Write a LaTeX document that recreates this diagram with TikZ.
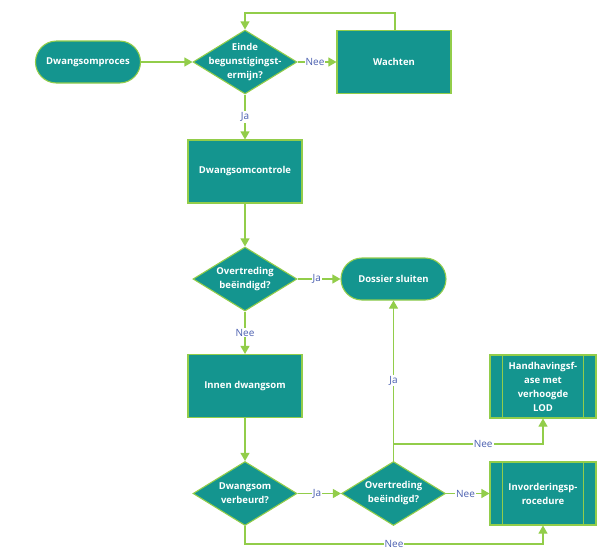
\documentclass[tikz,border=0pt]{standalone}
\usepackage{fontspec}
\setmainfont{Open Sans}
\usetikzlibrary{shapes.geometric,arrows.meta}
\definecolor{teal1}{HTML}{14958F}
\definecolor{lgreen}{HTML}{92CD4A}
\definecolor{lblue}{HTML}{4A5FB0}
\tikzset{
  nodefont/.style={text=white, font=\fontsize{9.5}{14}\selectfont\bfseries, align=center},
  base/.style={draw=lgreen, line width=1.1pt, fill=teal1, nodefont, inner sep=0pt},
  procbox/.style={base, rectangle, minimum width=114pt, minimum height=63pt},
  termbox/.style={base, rounded corners=21pt, minimum width=105pt, minimum height=42pt},
  decbox/.style={base, diamond, aspect=1.6, minimum width=104pt, minimum height=64pt, inner sep=0pt,
    label={[nodefont, inner sep=0pt]center:#1}},
  subbox/.style={base, rectangle, minimum width=106pt, minimum height=63pt},
  conn/.style={draw=lgreen, line width=1.1pt, -{Triangle[width=9pt,length=8pt]}},
  plain/.style={draw=lgreen, line width=1.1pt},
  lbl/.style={fill=white, text=lblue, font=\fontsize{10}{11}\selectfont, inner sep=1pt}
}
\begin{document}
\begin{tikzpicture}[x=1pt,y=-1pt]
\useasboundingbox (0,0) rectangle (602,555);
\node[termbox] (start) at (88,62) {Dwangsomproces};
\node[decbox={Einde\\begunstigingst-\\ermijn?}] (d1) at (245,62) {};
\node[procbox] (wacht) at (394,62) {Wachten};
\node[procbox] (ctrl) at (245,171.5) {Dwangsomcontrole};
\node[decbox={Overtreding\\beëindigd?}] (d2) at (245,279) {};
\node[termbox] (dos) at (393.5,279) {Dossier sluiten};
\node[procbox] (innen) at (245,386) {Innen dwangsom};
\node[decbox={Dwangsom\\verbeurd?}] (d3) at (245,493.5) {};
\node[decbox={Overtreding\\beëindigd?}] (d4) at (393.5,493.5) {};
\node[subbox] (hand) at (543,386.5) {Handhavingsf-\\ase met\\verhoogde\\LOD};
\node[subbox] (inv) at (543,493.5) {Invorderingsp-\\rocedure};
\foreach \n in {hand,inv}{
  \draw[plain] ([xshift=13pt]\n.north west) -- ([xshift=13pt]\n.south west);
  \draw[plain] ([xshift=-13pt]\n.north east) -- ([xshift=-13pt]\n.south east);
}
\coordinate (loopa) at (395,13);
\coordinate (loopb) at (245,13);
\coordinate (br) at (393.5,444);
\coordinate (brr) at (543,444);
\coordinate (bl) at (245,544);
\coordinate (blr) at (543,544);

\draw[conn] (start) -- (d1);
\draw[conn] (d1) -- node[lbl, pos=0.45]{Nee} (wacht);
\draw[conn] (wacht.north -| loopa) -- (loopa) -- (loopb) -- (d1.north);
\draw[conn] (d1) -- node[lbl, pos=0.5]{Ja} (ctrl);
\draw[conn] (ctrl) -- (d2);
\draw[conn] (d2) -- node[lbl, pos=0.45]{Ja} (dos);
\draw[conn] (d2) -- node[lbl, pos=0.5]{Nee} (innen);
\draw[conn] (innen) -- (d3);
\draw[conn] (d3) -- node[lbl, pos=0.45]{Ja} (d4);
\draw[conn] (d4) -- node[lbl, pos=0.45]{Nee} (inv);
\draw[conn] (d4.north) -- node[lbl, pos=0.5]{Ja} (dos.south);
\draw[conn] (br) -- node[lbl, pos=0.6]{Nee} (brr) -- (hand.south);
\draw[conn] (d3.south) -- (bl) -- node[lbl, pos=0.5]{Nee} (blr) -- (inv.south);
\end{tikzpicture}
\end{document}
